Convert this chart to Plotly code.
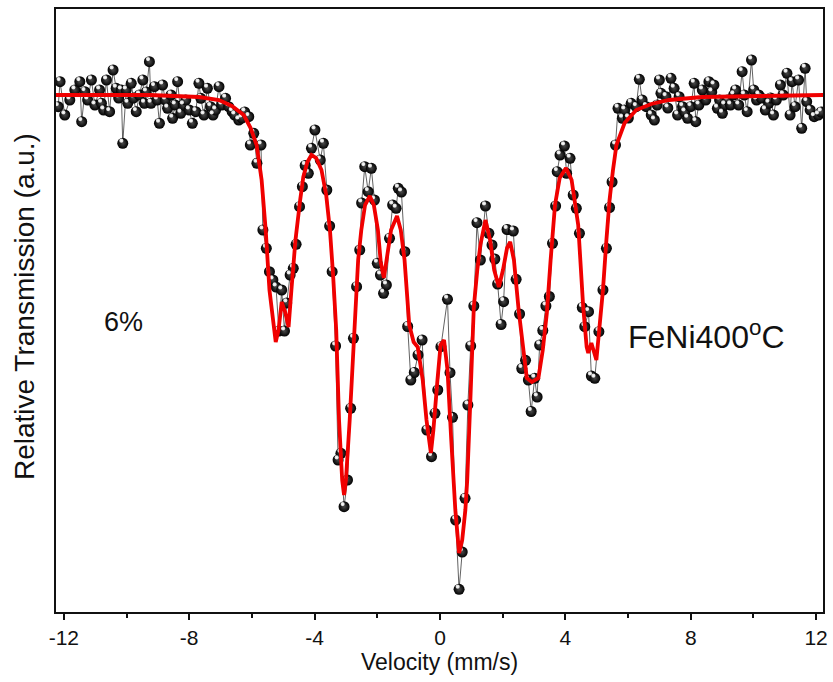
import plotly.graph_objects as go

# Mössbauer spectrum of FeNi annealed at 400 °C: measured points and fitted envelope
velocity = [
    -12.18, -12.12, -11.97, -11.81, -11.65, -11.49, -11.43, -11.33, -11.24, -11.12,
    -11.01, -10.86, -10.80, -10.73, -10.64, -10.54, -10.43, -10.33, -10.25, -10.17,
    -10.12, -10.01, -9.96, -9.85, -9.78, -9.69, -9.59, -9.48, -9.43, -9.37,
    -9.27, -9.22, -9.11, -9.02, -8.95, -8.85, -8.76, -8.69, -8.58, -8.53,
    -8.45, -8.37, -8.27, -8.19, -8.11, -8.00, -7.90, -7.79, -7.69, -7.63,
    -7.53, -7.42, -7.32, -7.24, -7.16, -7.05, -6.96, -6.84, -6.74, -6.63,
    -6.55, -6.42, -6.32, -6.23, -6.10, -6.05, -5.94, -5.84, -5.71, -5.65,
    -5.54, -5.44, -5.33, -5.23, -5.14, -5.05, -4.96, -4.89, -4.78, -4.68,
    -4.59, -4.48, -4.39, -4.30, -4.20, -4.10, -3.99, -3.82, -3.72, -3.61,
    -3.52, -3.44, -3.33, -3.25, -3.16, -3.06, -2.95, -2.85, -2.76, -2.66,
    -2.56, -2.50, -2.40, -2.29, -2.19, -2.09, -2.00, -1.90, -1.80, -1.71,
    -1.61, -1.51, -1.40, -1.33, -1.23, -1.12, -1.03, -0.93, -0.82, -0.70,
    -0.57, -0.42, -0.27, -0.16, -0.07, 0.03, 0.24, 0.32, 0.40, 0.50,
    0.61, 0.71, 0.80, 0.89, 0.98, 1.08, 1.18, 1.29, 1.45, 1.56,
    1.66, 1.75, 1.84, 1.95, 2.03, 2.14, 2.34, 2.43, 2.54, 2.61,
    2.73, 2.82, 2.91, 3.02, 3.10, 3.18, 3.28, 3.38, 3.49, 3.59,
    3.69, 3.74, 3.83, 3.97, 4.04, 4.15, 4.25, 4.35, 4.45, 4.54,
    4.62, 4.74, 4.83, 4.94, 5.07, 5.20, 5.31, 5.41, 5.49, 5.60,
    5.68, 5.82, 5.89, 6.01, 6.10, 6.26, 6.36, 6.45, 6.58, 6.74,
    6.84, 6.93, 7.00, 7.05, 7.21, 7.27, 7.37, 7.47, 7.58, 7.63,
    7.74, 7.81, 7.90, 8.00, 8.11, 8.16, 8.26, 8.37, 8.48, 8.58,
    8.67, 8.74, 8.85, 8.92, 9.01, 9.08, 9.17, 9.27, 9.37, 9.43,
    9.53, 9.64, 9.71, 9.80, 9.94, 10.01, 10.10, 10.17, 10.25, 10.38,
    10.49, 10.55, 10.64, 10.73, 10.86, 10.95, 11.07, 11.17, 11.23, 11.33,
    11.44, 11.54, 11.65, 11.70, 11.81, 11.94, 12.07, 12.16,
]
transmission = [
    99.883, 100.133, 99.800, 99.950, 100.050, 100.133, 99.733, 100.033, 99.950, 100.150,
    99.900, 100.050, 99.917, 99.850, 100.150, 99.833, 100.250, 100.067, 99.970, 100.050,
    99.517, 100.050, 99.917, 100.117, 99.970, 99.833, 100.000, 100.150, 99.917, 100.030,
    100.333, 99.917, 100.083, 99.950, 99.717, 100.100, 99.950, 99.867, 100.000, 99.767,
    99.900, 100.133, 99.817, 99.900, 99.950, 99.850, 99.717, 99.833, 100.117, 99.967,
    99.800, 100.067, 99.883, 99.800, 99.850, 100.083, 99.900, 99.967, 99.883, 99.833,
    99.800, 99.750, 99.770, 99.830, 99.783, 99.500, 99.617, 99.317, 99.500, 98.650,
    98.467, 98.233, 98.150, 98.080, 97.640, 98.050, 97.640, 97.920, 98.200, 98.267,
    98.507, 98.883, 99.083, 99.295, 99.217, 99.467, 99.650, 99.350, 99.517, 99.050,
    98.690, 98.233, 97.490, 96.350, 96.417, 95.883, 96.150, 96.867, 97.567, 98.083,
    98.450, 98.920, 99.283, 99.033, 99.267, 98.950, 98.317, 98.200, 98.017, 98.100,
    98.567, 98.900, 98.867, 99.067, 99.030, 98.433, 97.685, 97.150, 97.225, 97.400,
    97.550, 96.650, 96.383, 96.817, 97.050, 97.483, 97.957, 97.223, 96.777, 95.750,
    95.057, 95.430, 95.967, 96.900, 97.490, 97.890, 98.723, 98.350, 98.890, 98.617,
    98.500, 98.360, 98.110, 97.705, 97.933, 98.655, 98.640, 98.157, 97.810, 97.265,
    97.347, 97.150, 96.835, 97.167, 96.980, 97.500, 97.645, 97.890, 97.985, 98.517,
    98.890, 99.233, 99.400, 99.490, 99.217, 99.367, 99.000, 98.867, 98.617, 97.875,
    97.683, 97.833, 97.190, 97.167, 97.633, 98.050, 98.467, 98.875, 99.130, 99.500,
    99.867, 99.767, 99.850, 99.770, 99.917, 99.883, 100.157, 99.950, 99.883, 99.800,
    99.750, 99.900, 100.150, 100.017, 99.983, 99.870, 100.167, 100.067, 99.800, 99.983,
    99.883, 99.830, 99.767, 99.883, 100.117, 99.733, 99.900, 100.050, 99.950, 100.133,
    100.030, 100.100, 99.867, 99.950, 99.817, 99.900, 99.950, 99.900, 100.000, 100.050,
    99.900, 100.233, 100.000, 99.833, 100.350, 100.050, 99.950, 100.000, 99.970, 99.850,
    99.917, 99.970, 99.800, 99.950, 100.100, 100.000, 100.217, 99.800, 100.133, 99.883,
    100.150, 99.667, 100.267, 99.933, 99.850, 99.783, 99.800, 99.830,
]

fit_velocity = [
    -12.25, -9.27, -7.69, -7.05, -6.64, -6.26, -6.04, -5.85, -5.69, -5.56,
    -5.44, -5.34, -5.24, -5.15, -5.05, -4.94, -4.83, -4.74, -4.61, -4.46,
    -4.36, -4.23, -4.10, -3.95, -3.78, -3.63, -3.51, -3.41, -3.31, -3.22,
    -3.12, -3.06, -3.00, -2.88, -2.74, -2.61, -2.51, -2.39, -2.24, -2.11,
    -1.98, -1.89, -1.79, -1.68, -1.56, -1.37, -1.25, -1.13, -0.98, -0.84,
    -0.71, -0.55, -0.43, -0.29, -0.21, -0.08, 0.02, 0.13, 0.24, 0.36,
    0.49, 0.61, 0.71, 0.81, 0.87, 0.97, 1.08, 1.19, 1.29, 1.45,
    1.60, 1.73, 1.88, 2.01, 2.14, 2.24, 2.36, 2.51, 2.67, 2.77,
    2.93, 3.14, 3.28, 3.41, 3.53, 3.67, 3.82, 4.02, 4.20, 4.29,
    4.41, 4.57, 4.68, 4.73, 4.83, 4.99, 5.09, 5.20, 5.31, 5.41,
    5.52, 5.63, 5.89, 6.26, 6.74, 7.31, 8.37, 9.75, 12.22,
]
fit_transmission = [
    100.00, 100.00, 99.98, 99.95, 99.89, 99.80, 99.67, 99.50, 99.15, 98.65,
    98.05, 97.75, 97.53, 97.65, 97.93, 97.83, 97.68, 98.05, 98.55, 98.95,
    99.18, 99.33, 99.40, 99.37, 99.25, 99.00, 98.65, 98.20, 97.65, 96.75,
    96.15, 96.00, 96.15, 96.75, 97.65, 98.35, 98.65, 98.90, 98.99, 98.90,
    98.65, 98.33, 98.17, 98.40, 98.65, 98.79, 98.65, 98.35, 97.70, 97.53,
    97.48, 97.15, 96.75, 96.42, 96.65, 97.15, 97.50, 97.55, 97.25, 96.55,
    95.85, 95.42, 95.55, 95.85, 96.15, 96.95, 97.88, 98.25, 98.50, 98.75,
    98.55, 98.25, 98.08, 98.25, 98.47, 98.53, 98.35, 97.85, 97.42, 97.17,
    97.13, 97.17, 97.45, 97.82, 98.35, 98.90, 99.17, 99.27, 99.15, 98.95,
    98.70, 97.88, 97.48, 97.42, 97.52, 97.35, 97.65, 98.05, 98.55, 98.95,
    99.25, 99.50, 99.72, 99.85, 99.91, 99.95, 99.98, 99.99, 100.00,
]

x_range = [-12.25, 12.22]
y_range = [94.83, 100.86]
x_ticks = [-12, -8, -4, 0, 4, 8, 12]

# small shift (data units) of the glint on each ball, toward the upper left
GLINT_DX = -0.045
GLINT_DY = 0.026

FONT = "Liberation Sans, Arial, sans-serif"
INK = "#111111"

fig = go.Figure()

# measured spectrum: thin connecting line + shaded ball markers
fig.add_trace(go.Scatter(
    x=velocity, y=transmission,
    mode="lines+markers",
    line=dict(color="#3a3a3a", width=0.8),
    marker=dict(
        size=11, color="#000000",
        gradient=dict(type="radial", color="#4a4a4a"),
        line=dict(width=0),
    ),
    hoverinfo="skip", showlegend=False,
))
fig.add_trace(go.Scatter(
    x=[v + GLINT_DX for v in velocity],
    y=[t + GLINT_DY for t in transmission],
    mode="markers",
    marker=dict(size=4.2, color="rgba(235,235,235,0.9)",
                gradient=dict(type="radial", color="#ffffff"), line=dict(width=0)),
    hoverinfo="skip", showlegend=False,
))

# fitted envelope
fig.add_trace(go.Scatter(
    x=fit_velocity, y=fit_transmission,
    mode="lines",
    line=dict(color="#f00000", width=3.8),
    hoverinfo="skip", showlegend=False,
))

fig.add_annotation(x=-10.1, y=97.73, xref="x", yref="y", text="6%",
                   showarrow=False, font=dict(family=FONT, size=27, color=INK))
fig.add_annotation(x=8.5, y=97.60, xref="x", yref="y", text="FeNi400<sup>o</sup>C",
                   showarrow=False, font=dict(family=FONT, size=32, color=INK))
# vertical axis title
fig.add_annotation(x=-0.042, y=0.507, xref="paper", yref="paper",
                   text="Relative Transmission (a.u.)", textangle=-90,
                   showarrow=False, xanchor="center", yanchor="middle",
                   font=dict(family=FONT, size=28, color=INK))

fig.update_xaxes(
    range=x_range, tickmode="array", tickvals=x_ticks,
    ticktext=[str(t) for t in x_ticks],
    ticks="outside", ticklen=6, tickwidth=1.5, tickcolor=INK,
    minor=dict(dtick=2, tick0=0, ticks="outside", ticklen=4, tickwidth=1.5, tickcolor=INK),
    showline=True, linewidth=1.6, linecolor=INK, mirror=True,
    showgrid=False, zeroline=False,
    tickfont=dict(family=FONT, size=21, color=INK),
    title=dict(text="Velocity (mm/s)", font=dict(family=FONT, size=23, color=INK), standoff=0),
)
fig.update_yaxes(
    range=y_range, showticklabels=False, ticks="",
    showline=True, linewidth=1.6, linecolor=INK, mirror=True,
    showgrid=False, zeroline=False,
)

fig.update_layout(
    width=833, height=682,
    margin=dict(l=56, r=5, t=9, b=70),
    paper_bgcolor="white", plot_bgcolor="white",
)

fig.write_html("out.html")
